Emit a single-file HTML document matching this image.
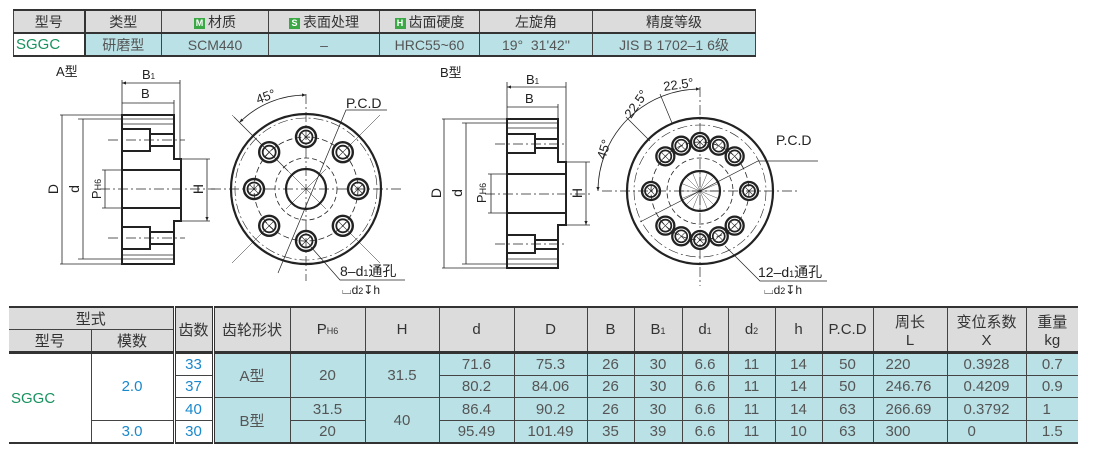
<!DOCTYPE html>
<html><head><meta charset="utf-8"><style>
*{margin:0;padding:0;box-sizing:border-box}
body{width:1100px;height:459px;background:#fff;position:relative;overflow:hidden;font-family:"Liberation Sans","Noto Sans CJK SC",sans-serif;color:#555}
table{position:absolute;border-collapse:collapse;table-layout:fixed}
td{border:1px solid #444;text-align:center;vertical-align:middle;padding:0;white-space:nowrap;overflow:hidden}
.h{background:#dcdcdc;color:#333}
.c{background:#b9e1e6;color:#555}
.w{background:#fff}
.g{color:#17925e}
.b{color:#1a88cc}
.ic{display:inline-block;width:11px;height:11px;background:#3aa845;color:#fff;font-size:9px;line-height:11px;text-align:center;font-weight:bold;vertical-align:1px;margin-right:3px}
#t1{left:13px;top:9px;font-size:14px}
#t1 tr{height:23px}
#t1{border-top:2px solid #333;border-bottom:2px solid #333}
#t2{left:9px;top:306px;font-size:15px}
#t2{border-top:2px solid #333;border-bottom:2px solid #333}
#t2 td{height:22.6px}
sub{font-size:9px;vertical-align:0}
svg{position:absolute;left:0;top:0}
</style></head><body>
<table id="t1">
<colgroup><col style="width:71px"><col style="width:77px"><col style="width:107px"><col style="width:111px"><col style="width:100px"><col style="width:113px"><col style="width:163px"></colgroup>
<tr style="border-bottom:2px solid #333"><td class="h" style="border-right:2px solid #333">型号</td><td class="h">类型</td><td class="h"><span class="ic">M</span>材质</td><td class="h"><span class="ic">S</span>表面处理</td><td class="h"><span class="ic">H</span>齿面硬度</td><td class="h">左旋角</td><td class="h">精度等级</td></tr>
<tr><td class="w g" style="text-align:left;padding-left:2px;border-right:2px solid #333;font-size:15px">SGGC</td><td class="c">研磨型</td><td class="c">SCM440</td><td class="c">–</td><td class="c">HRC55~60</td><td class="c">19°&nbsp; 31'42''</td><td class="c">JIS B 1702–1 6级</td></tr>
</table>

<table id="t2">
<colgroup><col style="width:82px"><col style="width:83px"><col style="width:39px"><col style="width:77px"><col style="width:75px"><col style="width:74px"><col style="width:75px"><col style="width:73px"><col style="width:47px"><col style="width:48px"><col style="width:46px"><col style="width:47px"><col style="width:47px"><col style="width:51px"><col style="width:74px"><col style="width:79px"><col style="width:52px"></colgroup>
<tr><td class="h" colspan="2" style="border-left:none">型式</td><td class="h" rowspan="2" style="border-left:3px double #333;border-right:3px double #333">齿数</td><td class="h" rowspan="2">齿轮形状</td><td class="h" rowspan="2">P<sub>H6</sub></td><td class="h" rowspan="2">H</td><td class="h" rowspan="2">d</td><td class="h" rowspan="2">D</td><td class="h" rowspan="2">B</td><td class="h" rowspan="2">B<sub>1</sub></td><td class="h" rowspan="2">d<sub>1</sub></td><td class="h" rowspan="2">d<sub>2</sub></td><td class="h" rowspan="2">h</td><td class="h" rowspan="2">P.C.D</td><td class="h" rowspan="2">周长<br>L</td><td class="h" rowspan="2">变位系数<br>X</td><td class="h" rowspan="2" style="border-right:none">重量<br>kg</td></tr>
<tr><td class="h" style="border-left:none">型号</td><td class="h">模数</td></tr>
<tr style="border-top:3px solid #333"><td class="w g" rowspan="4" style="text-align:left;padding-left:2px;border-left:none">SGGC</td><td class="w b" rowspan="3">2.0</td><td class="w b" style="border-left:3px double #333;border-right:3px double #333">33</td><td class="c" rowspan="2">A型</td><td class="c" rowspan="2">20</td><td class="c" rowspan="2">31.5</td><td class="c">71.6</td><td class="c">75.3</td><td class="c">26</td><td class="c">30</td><td class="c">6.6</td><td class="c">11</td><td class="c">14</td><td class="c">50</td><td class="c" style="text-align:left;padding-left:12px">220</td><td class="c">0.3928</td><td class="c" style="border-right:none">0.7</td></tr>
<tr><td class="w b" style="border-left:3px double #333;border-right:3px double #333">37</td><td class="c">80.2</td><td class="c">84.06</td><td class="c">26</td><td class="c">30</td><td class="c">6.6</td><td class="c">11</td><td class="c">14</td><td class="c">50</td><td class="c" style="text-align:left;padding-left:12px">246.76</td><td class="c">0.4209</td><td class="c" style="border-right:none">0.9</td></tr>
<tr><td class="w b" style="border-left:3px double #333;border-right:3px double #333">40</td><td class="c" rowspan="2">B型</td><td class="c">31.5</td><td class="c" rowspan="2">40</td><td class="c">86.4</td><td class="c">90.2</td><td class="c">26</td><td class="c">30</td><td class="c">6.6</td><td class="c">11</td><td class="c">14</td><td class="c">63</td><td class="c" style="text-align:left;padding-left:12px">266.69</td><td class="c">0.3792</td><td class="c" style="border-right:none;text-align:left;padding-left:16px">1</td></tr>
<tr><td class="w b">3.0</td><td class="w b" style="border-left:3px double #333;border-right:3px double #333">30</td><td class="c">20</td><td class="c">95.49</td><td class="c">101.49</td><td class="c">35</td><td class="c">39</td><td class="c">6.6</td><td class="c">11</td><td class="c">10</td><td class="c">63</td><td class="c" style="text-align:left;padding-left:12px">300</td><td class="c" style="text-align:left;padding-left:20px">0</td><td class="c" style="border-right:none">1.5</td></tr>
</table>

<svg width="1100" height="459" viewBox="0 0 1100 459" font-family="Liberation Sans, Noto Sans CJK SC, sans-serif" fill="none" stroke="#222">
<defs>
<marker id="ar" viewBox="0 0 10 10" refX="10" refY="5" markerWidth="7" markerHeight="5" orient="auto-start-reverse"><path d="M0,1 L10,5 L0,9 Z" fill="#222" stroke="none"/></marker>
<g id="hA"><circle r="10" stroke-width="2.4"/><circle r="6.5" stroke-width="1.8"/><path d="M-4,-4 L4,4 M4,-4 L-4,4" stroke-width="0.6"/></g>
<g id="hB"><circle r="9" stroke-width="2.3"/><circle r="6" stroke-width="1.7"/><path d="M-3.5,-3.5 L3.5,3.5 M3.5,-3.5 L-3.5,3.5" stroke-width="0.6"/></g>
</defs>
<g fill="#222" stroke="none" font-size="13">
<text x="56" y="76">A型</text><text x="440" y="77">B型</text>
<text x="142" y="79">B<tspan font-size="8">1</tspan></text><text x="141" y="98">B</text>
<text x="526" y="84">B<tspan font-size="8">1</tspan></text><text x="525" y="103">B</text>
<text transform="translate(58,189) rotate(-90)" text-anchor="middle" font-size="14">D</text>
<text transform="translate(79,189) rotate(-90)" text-anchor="middle" font-size="14">d</text>
<text transform="translate(101,189) rotate(-90)" text-anchor="middle" font-size="13">P<tspan font-size="9">H6</tspan></text>
<text transform="translate(203,189) rotate(-90)" text-anchor="middle" font-size="14">H</text>
<text transform="translate(441,193) rotate(-90)" text-anchor="middle" font-size="14">D</text>
<text transform="translate(462,193) rotate(-90)" text-anchor="middle" font-size="14">d</text>
<text transform="translate(486,193) rotate(-90)" text-anchor="middle" font-size="13">P<tspan font-size="9">H6</tspan></text>
<text transform="translate(582,193) rotate(-90)" text-anchor="middle" font-size="14">H</text>
<text transform="translate(258,104) rotate(-20)" font-size="13">45°</text>
<text x="346" y="108" font-size="14">P.C.D</text>
<text x="340" y="276" font-size="14">8–d<tspan font-size="9">1</tspan>通孔</text>
<text x="342" y="294" font-size="12">⌴d<tspan font-size="9">2</tspan>↧h</text>
<text transform="translate(664,91) rotate(-8)" font-size="13">22.5°</text>
<text transform="translate(631,119) rotate(-55)" font-size="13">22.5°</text>
<text transform="translate(605,160) rotate(-72)" font-size="13">45°</text>
<text x="776" y="145" font-size="14">P.C.D</text>
<text x="758" y="277" font-size="14">12–d<tspan font-size="9">1</tspan>通孔</text>
<text x="764" y="294" font-size="12">⌴d<tspan font-size="9">2</tspan>↧h</text>
</g>

<!-- A side view -->
<g stroke-width="2"><path d="M122,115 H174 V159 H181 V221 H174 V264 H122 Z"/>
<path d="M122,170 H181 M122,208 H181"/>
<path d="M122,129 H150 V151 H122 M150,134 H174 M150,146 H174"/>
<path d="M122,227 H150 V249 H122 M150,232 H174 M150,244 H174"/></g>
<g stroke-width="0.8"><path d="M122,119 H174 M122,124 H174 M122,255 H174 M122,259 H174"/>
<path d="M60,115 H122 M78,119 H122 M60,264 H122 M78,259 H122 M102,170 H122 M102,208 H122 M181,159 H210 M181,221 H210"/>
<path d="M122,80 V115 M180,80 V159 M174,100 V115"/>
<path d="M122,83 H180 M122,103 H174 M62,115 V264 M83,119 V259 M105,170 V208 M207,159 V221" marker-start="url(#ar)" marker-end="url(#ar)"/>
<path d="M100,189 H215 M108,140 H185 M108,238 H185" stroke-dasharray="10 3 2 3"/></g>

<!-- A front view -->
<g transform="translate(306,189)">
<circle r="75" stroke-width="2.2"/>
<circle r="71" stroke-width="0.6" stroke-dasharray="10 3 2 3"/>
<circle r="52" stroke-width="0.8" stroke-dasharray="6 3"/>
<circle r="31" stroke-width="0.8" stroke-dasharray="5 3"/>
<circle r="20" stroke-width="2.2"/>
<path d="M-95,0 H95 M0,-95 V92" stroke-width="0.7" stroke-dasharray="10 3 2 3"/>
<path d="M-20,-20 L20,20 M20,-20 L-20,20 M-36,36 L-74,74 M36,36 L74,74 M36,-36 L74,-74 M-36,-36 L-74,-74" stroke-width="0.5"/>
<path d="M-28,84 L40,-79 L81,-79" stroke-width="0.7"/>
<path d="M-18,-18 L-72,-72" stroke-width="0.7"/>
<path d="M0,-94 A94,94 0 0 0 -66.5,-66.5" stroke-width="0.8" marker-start="url(#ar)" marker-end="url(#ar)"/>
<path d="M5,58 L34,91 L99,91" stroke-width="0.7"/>
<use href="#hA" x="52" y="0"/><use href="#hA" x="-52" y="0"/><use href="#hA" x="0" y="-52"/><use href="#hA" x="0" y="52"/>
<use href="#hA" x="36.8" y="-36.8"/><use href="#hA" x="-36.8" y="-36.8"/><use href="#hA" x="36.8" y="36.8"/><use href="#hA" x="-36.8" y="36.8"/>
</g>

<!-- B side view -->
<g stroke-width="2"><path d="M507,119 H558 V162 H566 V225 H558 V268 H507 Z"/>
<path d="M507,174 H566 M507,213 H566"/>
<path d="M507,134 H535 V153 H507 M535,139 H558 M535,148 H558"/>
<path d="M507,235 H535 V253 H507 M535,240 H558 M535,249 H558"/></g>
<g stroke-width="0.8"><path d="M507,123 H558 M507,128 H558 M507,259 H558 M507,264 H558"/>
<path d="M442,119 H507 M462,123 H507 M442,268 H507 M462,264 H507 M488,174 H507 M488,213 H507 M566,162 H590 M566,225 H590"/>
<path d="M507,82 V119 M566,82 V162 M558,104 V119"/>
<path d="M507,87 H566 M507,107 H558 M444,119 V268 M466,123 V264 M491,174 V213 M586,162 V225" marker-start="url(#ar)" marker-end="url(#ar)"/>
<path d="M485,194 H593 M495,144 H565 M495,244 H565" stroke-dasharray="10 3 2 3"/></g>

<!-- B front view -->
<g transform="translate(700,191)">
<circle r="73" stroke-width="2.2"/>
<circle r="66" stroke-width="0.6" stroke-dasharray="10 3 2 3"/>
<circle r="49" stroke-width="0.8" stroke-dasharray="6 3"/>
<circle r="33" stroke-width="0.8" stroke-dasharray="5 3"/>
<circle r="20" stroke-width="2.2"/>
<path d="M-98,0 H98 M0,-104 V95" stroke-width="0.7" stroke-dasharray="10 3 2 3"/>
<path d="M-20,0 L20,0 M0,-20 L0,20 M-14,-14 L14,14 M14,-14 L-14,14 M-7.6,-18.5 L7.6,18.5 M7.6,-18.5 L-7.6,18.5 M-18.5,-7.6 L18.5,7.6 M18.5,-7.6 L-18.5,7.6" stroke-width="0.4"/>
<path d="M-60,31 L58,-30 L118,-30" stroke-width="0.7"/>
<path d="M-28,-68 L-40,-97 M-50,-50 L-74,-74" stroke-width="0.7"/>
<path d="M0,-102 A102,102 0 0 0 -102,0" stroke-width="0.8" marker-start="url(#ar)" marker-end="url(#ar)"/>
<path d="M25,55 L60,90 L127,90" stroke-width="0.7"/>
<use href="#hB" x="49" y="0"/><use href="#hB" x="-49" y="0"/><use href="#hB" x="0" y="-49"/><use href="#hB" x="0" y="49"/>
<use href="#hB" x="18.75" y="-45.3"/><use href="#hB" x="-18.75" y="-45.3"/><use href="#hB" x="18.75" y="45.3"/><use href="#hB" x="-18.75" y="45.3"/>
<use href="#hB" x="34.65" y="-34.65"/><use href="#hB" x="-34.65" y="-34.65"/><use href="#hB" x="34.65" y="34.65"/><use href="#hB" x="-34.65" y="34.65"/>
</g>
</svg>
</body></html>
